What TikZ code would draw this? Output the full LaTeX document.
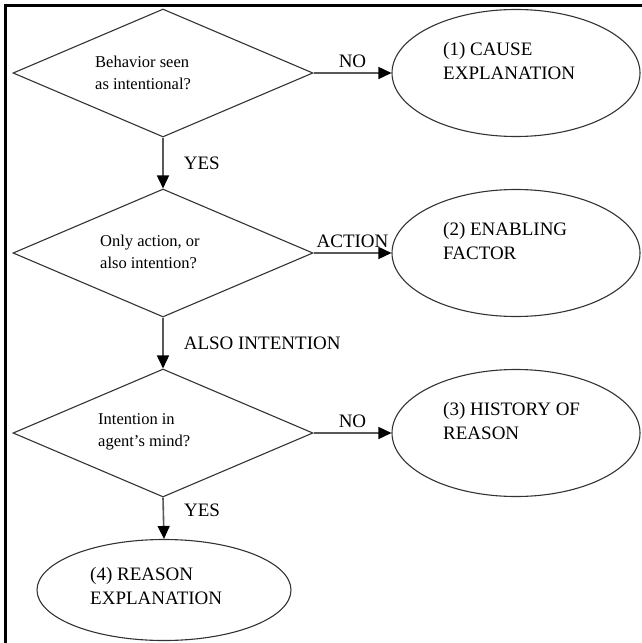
\documentclass[tikz,border=0pt]{standalone}
\usepackage{fontspec}
\setmainfont{Liberation Serif}
\usetikzlibrary{shapes.geometric,arrows.meta}
\begin{document}
\begin{tikzpicture}[x=1pt,y=-1pt,
  dia/.style={draw=black!80, line width=1.1pt, diamond, minimum width=300pt, minimum height=128pt, inner sep=0pt},
  ell/.style={draw=black!80, line width=1.1pt, ellipse, minimum width=248pt, minimum height=127pt, inner sep=0pt},
  qtext/.style={anchor=west, align=left, inner sep=0pt, font=\fontsize{16.5}{22}\selectfont},
  atext/.style={anchor=west, align=left, inner sep=0pt, font=\fontsize{19}{24}\selectfont},
  elab/.style={inner sep=0pt, font=\fontsize{19}{24}\selectfont},
  conn/.style={draw=black!65, line width=1.6pt, -{Triangle[length=13pt,width=12pt,color=black]}}
]
\useasboundingbox (0,0) rectangle (642,643);
\fill[white] (0,0) rectangle (642,643);
% frame (left and top only)
\draw[line width=2.6pt, line cap=rect] (5.5,643) -- (5.5,5.5) -- (642,5.5);

% decisions
\node[dia] (d1) at (163,73) {};
\node[dia] (d2) at (163,253) {};
\node[dia] (d3) at (163,433) {};
\node[qtext] (t1) at (95,73) {Behavior seen\\as intentional?};
\node[qtext] (t2) at (100,252) {Only action, or\\also intention?};
\node[qtext] (t3) at (98,432) {Intention in\\agent’s mind?};

% outcomes
\node[ell] (e1) at (516,73) {};
\node[ell] (e2) at (516,253) {};
\node[ell] (e3) at (516,433) {};
\node[ell, minimum width=254pt, minimum height=101pt] (e4) at (164,590) {};
\node[atext] (u1) at (443,61) {(1) CAUSE\\EXPLANATION};
\node[atext] (u2) at (443,241) {(2) ENABLING\\FACTOR};
\node[atext] (u3) at (443,421) {(3) HISTORY OF\\REASON};
\node[atext] (u4) at (90,586) {(4) REASON\\EXPLANATION};

% connectors
\draw[conn] (d1.east) -- node[elab, above=5pt] (l1) {NO} (e1.west);
\draw[conn] (d2.east) -- node[elab, above=5pt] (l2) {ACTION} (e2.west);
\draw[conn] (d3.east) -- node[elab, above=5pt] (l3) {NO} (e3.west);
\draw[conn] (d1.south) -- node[elab, right, xshift=20pt] (l4) {YES} (d2.north);
\draw[conn] (d2.south) -- node[elab, right, xshift=20pt] (l5) {ALSO INTENTION} (d3.north);
\draw[conn] (d3.south) -- node[elab, right, xshift=20pt, pos=0.3] (l6) {YES} (e4.north);
\end{tikzpicture}
\end{document}
